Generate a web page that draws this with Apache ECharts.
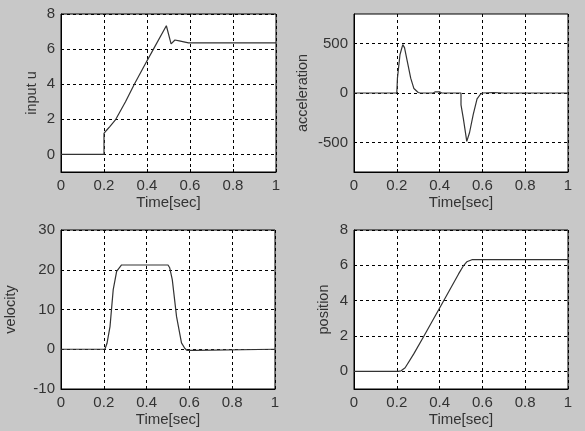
<!DOCTYPE html>
<html>
<head>
<meta charset="UTF-8">
<script src="https://cdn.jsdelivr.net/npm/echarts@6/dist/echarts.min.js"></script>
<style>
  html, body { margin: 0; padding: 0; background: #c8c8c8; }
  #main { width: 585px; height: 431px; }
</style>
</head>
<body>
<div id="main"></div>
<script>
// time ticks shared by all four panels
var timeTicks = [0, 0.2, 0.4, 0.6, 0.8, 1];

// panel data, [time, value]
var inputU = [[0,0],[0.2,0],[0.2,1.2],[0.21,1.35],[0.228,1.6],[0.255,2.0],[0.3,3.0],[0.341,4.0],[0.385,5.0],
  [0.43,6.0],[0.49,7.33],[0.512,6.3],[0.53,6.52],[0.55,6.47],[0.593,6.36],[1,6.36]];
var accel = [[0,0],[0.2,0],[0.203,150],[0.215,390],[0.228,490],[0.236,460],[0.25,310],[0.265,150],[0.28,45],
  [0.3,5],[0.31,0],[0.37,0],[0.38,12],[0.4,12],[0.41,0],[0.5,0],[0.5,-120],[0.511,-260],[0.527,-490],
  [0.54,-400],[0.557,-220],[0.575,-60],[0.59,-15],[0.6,0],[0.65,5],[0.7,0],[1,0]];
var velocity = [[0,0],[0.205,0],[0.215,1.5],[0.229,5.7],[0.244,15],[0.26,19.6],[0.283,21.2],[0.5,21.2],
  [0.508,20.5],[0.52,17.5],[0.54,8.2],[0.563,1.6],[0.579,0.2],[0.59,-0.3],[0.625,-0.3],[0.63,0],[1,0]];
var position = [[0,0],[0.207,0],[0.22,0.03],[0.239,0.2],[0.28,1.0],[0.325,1.96],[0.41,3.8],[0.488,5.5],
  [0.51,5.95],[0.527,6.2],[0.551,6.32],[1,6.32]];

var yNames = ['input u', 'acceleration', 'velocity', 'position'];
var yRanges = [[-1, 8], [-800, 800], [-10, 30], [-1, 8]];
var yTicks = [[0, 2, 4, 6, 8], [-500, 0, 500], [-10, 0, 10, 20, 30], [0, 2, 4, 6, 8]];
var seriesData = [inputU, accel, velocity, position];

var grids = [
  { left: 61, top: 14, width: 215, height: 158 },
  { left: 354, top: 14, width: 214, height: 158 },
  { left: 61, top: 230, width: 214, height: 159 },
  { left: 354, top: 230, width: 214, height: 159 }
];
var nameGaps = [22, 44, 43, 23];

var dotted = { color: '#000', width: 1, type: [3, 3] };
var font = { fontFamily: 'Liberation Sans, Arial, sans-serif', fontSize: 15, color: '#333' };

var chart = echarts.init(document.getElementById('main'));
var option = {
  animation: false,
  backgroundColor: '#c8c8c8',
  textStyle: { fontFamily: font.fontFamily },
  grid: grids.map(function (g) {
    return Object.assign({ show: true, backgroundColor: '#fff', borderColor: '#000', borderWidth: 1 }, g);
  }),
  xAxis: grids.map(function (g, i) {
    return {
      gridIndex: i, type: 'value', min: 0, max: 1, interval: 0.2,
      name: 'Time[sec]', nameLocation: 'middle', nameGap: 23,
      nameTextStyle: font,
      axisLine: { show: true, onZero: false, lineStyle: { color: '#000' } },
      axisTick: { show: true, inside: true, length: 3, lineStyle: { color: '#000' } },
      axisLabel: Object.assign({ margin: 6 }, font),
      splitLine: { show: true, lineStyle: dotted }
    };
  }),
  yAxis: grids.map(function (g, i) {
    return {
      gridIndex: i, type: 'value', min: yRanges[i][0], max: yRanges[i][1],
      name: yNames[i], nameLocation: 'middle', nameGap: nameGaps[i],
      nameTextStyle: Object.assign({}, font, { fontSize: 14.5 }),
      axisLine: { show: true, onZero: false, lineStyle: { color: '#000' } },
      axisTick: { show: true, inside: true, length: 3, lineStyle: { color: '#000' }, customValues: yTicks[i] },
      axisLabel: Object.assign({ margin: 6, customValues: yTicks[i] }, font),
      splitLine: { show: true, lineStyle: dotted }
    };
  }),
  series: seriesData.map(function (d, i) {
    return {
      type: 'line', xAxisIndex: i, yAxisIndex: i, data: d,
      showSymbol: false, symbol: 'none',
      lineStyle: { color: '#333', width: 1.2 }
    };
  })
};
chart.setOption(option);
</script>
</body>
</html>
